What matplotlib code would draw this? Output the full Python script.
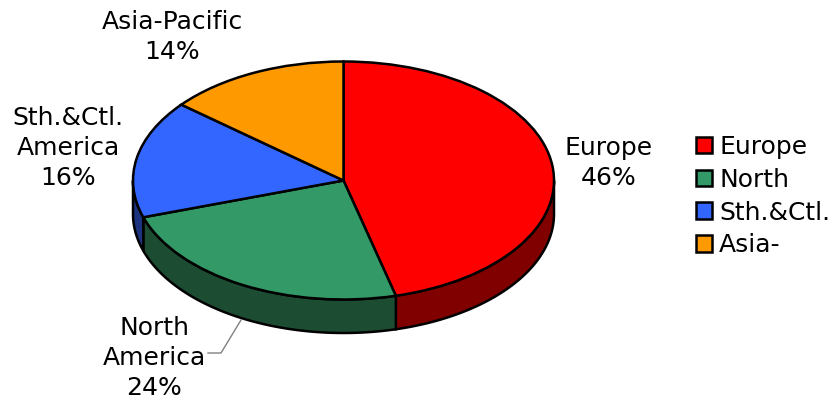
import numpy as np
import matplotlib
matplotlib.use("Agg")
import matplotlib.pyplot as plt
from matplotlib.patches import Patch

names = ["Europe", "North America", "Sth.&Ctl. America", "Asia-Pacific"]
label_lines = ["Europe", "North\nAmerica", "Sth.&Ctl.\nAmerica", "Asia-Pacific"]
legend_labels = ["Europe", "North", "Sth.&Ctl.", "Asia-"]
shares = [46, 24, 16, 14]
top_colors = ["#FF0000", "#339966", "#3366FF", "#FF9900"]
side_colors = ["#800000", "#1C4D33", "#1C3380", "#804D00"]

W, H = 835, 403
CX, CY, RX, RY = 343.5, 180.5, 210.5, 119
DEPTH = 33.5 / RY
FONT = 18


def px(x, y):
    # pixel position in the picture to data units
    return (x - CX) / RX, (CY - y) / RY


plt.rcParams["font.family"] = "DejaVu Sans"
fig = plt.figure(figsize=(W / 100, H / 100), dpi=100)
ax = fig.add_axes([0, 0, 1, 1])

# side walls first, only the front half of the disc shows
edges = np.cumsum([0] + shares) / sum(shares) * 2 * np.pi
for i in range(len(shares)):
    a = max(edges[i], np.pi / 2)
    b = min(edges[i + 1], 3 * np.pi / 2)
    if a >= b:
        continue
    t = np.linspace(a, b, 80)
    xs = np.sin(t)
    ys = np.cos(t)
    ax.fill(np.r_[xs, xs[::-1]], np.r_[ys, ys[::-1] - DEPTH],
            facecolor=side_colors[i], edgecolor="black", linewidth=1.8, zorder=1)

ax.pie(shares, colors=top_colors, startangle=90, counterclock=False, radius=1,
       wedgeprops={"edgecolor": "black", "linewidth": 1.8, "zorder": 2})

ax.set_aspect("auto")
ax.set_xlim(px(0, 0)[0], px(W, 0)[0])
ax.set_ylim(px(0, H)[1], px(0, 0)[1])
ax.axis("off")

label_pos = [(609, 163), (154, 358), (68, 148), (172, 37)]
for text, share, (lx, ly) in zip(label_lines, shares, label_pos):
    tx, ty = px(lx, ly)
    ax.text(tx, ty, f"{text}\n{share}%", ha="center", va="center", fontsize=FONT,
            color="black", linespacing=1.33, zorder=5)

# leader line for North America
lead = [px(241, 320), px(221, 353), px(208, 353)]
ax.plot([p[0] for p in lead], [p[1] for p in lead], color="#808080", linewidth=1, zorder=1.5)

handles = [Patch(facecolor=c, edgecolor="black", linewidth=1.8) for c in top_colors]
ax.legend(handles, legend_labels, loc="upper left", bbox_to_anchor=(696 / W, 1 - 135 / H),
          frameon=False, fontsize=FONT, handlelength=0.64, handleheight=0.64,
          handletextpad=0.28, labelspacing=0.35, borderpad=0, borderaxespad=0)

fig.savefig("out.png", dpi=100)
